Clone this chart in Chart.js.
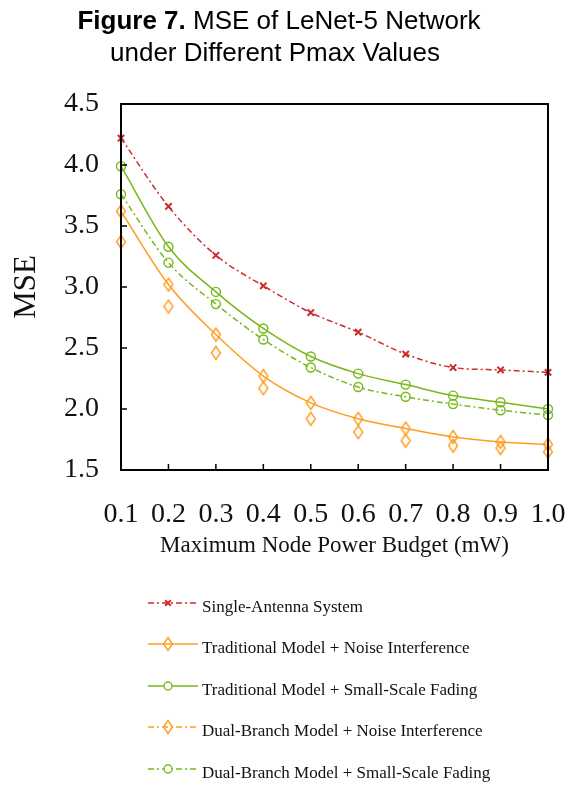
<!DOCTYPE html>
<html>
<head>
<meta charset="utf-8">
<script src="https://cdn.jsdelivr.net/npm/chart.js@4.4.0/dist/chart.umd.min.js"></script>
<style>
html, body { margin: 0; padding: 0; background: #ffffff; }
</style>
</head>
<body>
<canvas id="mseChart" width="581" height="787"></canvas>
<script>
// data
const powerBudgets = ['0.1', '0.2', '0.3', '0.4', '0.5', '0.6', '0.7', '0.8', '0.9', '1.0'];
const singleAntenna = [4.22, 3.66, 3.26, 3.01, 2.79, 2.63, 2.45, 2.34, 2.32, 2.30];
const tradNoise = [3.62, 3.02, 2.61, 2.27, 2.05, 1.92, 1.84, 1.77, 1.73, 1.71];
const tradFading = [3.99, 3.33, 2.96, 2.66, 2.43, 2.29, 2.20, 2.11, 2.055, 2.00];
const dualNoise = [3.37, 2.84, 2.46, 2.17, 1.92, 1.81, 1.74, 1.70, 1.68, 1.65];
const dualFading = [3.76, 3.20, 2.86, 2.57, 2.34, 2.18, 2.10, 2.04, 1.99, 1.95];
const mseTicks = [1.5, 2.0, 2.5, 3.0, 3.5, 4.0, 4.5];

const RED = '#cc2b2b';
const ORANGE = '#ff9c1e';
const GREEN = '#77b81a';
const DASHDOT = [6, 3, 2, 3];
const SERIF = '"Liberation Serif", "Times New Roman", serif';

function makeDiamond(color)
{
    const c = document.createElement('canvas');
    c.width = 12;
    c.height = 16;
    const g = c.getContext('2d');
    g.strokeStyle = color;
    g.lineWidth = 1.4;
    g.beginPath();
    g.moveTo(6, 1.5);
    g.lineTo(10.5, 8);
    g.lineTo(6, 14.5);
    g.lineTo(1.5, 8);
    g.closePath();
    g.stroke();
    return c;
}

const orangeDiamond = makeDiamond(ORANGE);

const seriesStyle = (label, data, color, marker, dash, showLine) => ({
    label: label,
    data: data,
    borderColor: color,
    backgroundColor: 'rgba(0,0,0,0)',
    borderWidth: 1.5,
    borderDash: dash,
    pointStyle: marker,
    pointRadius: 4.5,
    pointHoverRadius: 4.5,
    pointBorderColor: color,
    pointBorderWidth: marker == 'crossRot' ? 2 : 1.4,
    cubicInterpolationMode: 'monotone',
    showLine: showLine,
    clip: false,
    legendDash: dash.length ? dash : DASHDOT,
    legendSolid: dash.length == 0 && showLine
});

const frameAndLegend = {
    id: 'frameAndLegend',
    afterDraw(chart)
    {
        const { ctx, chartArea: area, scales: { x, y } } = chart;
        ctx.save();

        // box + inward ticks
        ctx.strokeStyle = '#000';
        ctx.lineWidth = 2;
        ctx.setLineDash([]);
        ctx.strokeRect(area.left, area.top, area.right - area.left, area.bottom - area.top);
        ctx.lineWidth = 1.5;
        ctx.beginPath();
        for (const v of mseTicks)
        {
            const py = y.getPixelForValue(v);
            ctx.moveTo(area.left, py);
            ctx.lineTo(area.left + 6, py);
        }
        for (let i = 1; i < powerBudgets.length - 1; i++)
        {
            const px = x.getPixelForValue(i);
            ctx.moveTo(px, area.bottom);
            ctx.lineTo(px, area.bottom - 6);
        }
        ctx.stroke();

        // title
        ctx.fillStyle = '#000';
        ctx.textBaseline = 'alphabetic';
        ctx.textAlign = 'left';
        const boldPart = 'Figure 7.';
        const restPart = ' MSE of LeNet-5 Network';
        ctx.font = 'bold 26px "Liberation Sans", Arial, sans-serif';
        const wb = ctx.measureText(boldPart).width;
        ctx.font = '26px "Liberation Sans", Arial, sans-serif';
        const wr = ctx.measureText(restPart).width;
        let tx = 279 - (wb + wr) / 2;
        ctx.font = 'bold 26px "Liberation Sans", Arial, sans-serif';
        ctx.fillText(boldPart, tx, 29);
        ctx.font = '26px "Liberation Sans", Arial, sans-serif';
        ctx.fillText(restPart, tx + wb, 29);
        ctx.textAlign = 'center';
        ctx.fillText('under Different Pmax Values', 275, 61);

        // legend
        const rowY = [603, 644, 686, 727, 769];
        ctx.font = '17px ' + SERIF;
        ctx.textAlign = 'left';
        ctx.textBaseline = 'middle';
        chart.data.datasets.forEach((ds, i) =>
        {
            const ly = rowY[i];
            ctx.strokeStyle = ds.borderColor;
            ctx.lineWidth = 1.5;
            ctx.setLineDash(ds.legendSolid ? [] : ds.legendDash);
            ctx.beginPath();
            ctx.moveTo(148, ly);
            ctx.lineTo(198, ly);
            ctx.stroke();
            ctx.setLineDash([]);
            ctx.fillStyle = '#ffffff';
            ctx.lineWidth = ds.pointBorderWidth;
            Chart.helpers.drawPoint(ctx, {
                pointStyle: ds.pointStyle,
                radius: 4,
                rotation: 0,
                borderWidth: ds.pointBorderWidth
            }, 168, ly);
            ctx.fillStyle = '#111';
            ctx.fillText(ds.label, 202, ly + 5);
        });

        ctx.restore();
    }
};

new Chart(document.getElementById('mseChart'), {
    type: 'line',
    data: {
        labels: powerBudgets,
        datasets: [
            seriesStyle('Single-Antenna System', singleAntenna, RED, 'crossRot', DASHDOT, true),
            seriesStyle('Traditional Model + Noise Interference', tradNoise, ORANGE, orangeDiamond, [], true),
            seriesStyle('Traditional Model + Small-Scale Fading', tradFading, GREEN, 'circle', [], true),
            seriesStyle('Dual-Branch Model + Noise Interference', dualNoise, ORANGE, orangeDiamond, [], false),
            seriesStyle('Dual-Branch Model + Small-Scale Fading', dualFading, GREEN, 'circle', DASHDOT, true)
        ]
    },
    options: {
        responsive: false,
        animation: false,
        devicePixelRatio: 1,
        layout: {
            padding: { top: 104, right: 33, bottom: 225, left: 0 }
        },
        plugins: {
            legend: { display: false },
            tooltip: { enabled: false }
        },
        scales: {
            x: {
                offset: false,
                grid: { display: false, drawTicks: false },
                border: { display: false },
                ticks: {
                    color: '#111',
                    padding: 28,
                    maxRotation: 0,
                    autoSkip: false,
                    font: { family: SERIF, size: 28 }
                },
                title: {
                    display: true,
                    text: 'Maximum Node Power Budget (mW)',
                    color: '#111',
                    padding: { top: 0, bottom: 2 },
                    font: { family: SERIF, size: 23 }
                },
                afterFit: (scale) =>
                {
                    scale.height = 92;
                    scale.paddingLeft = 0;
                    scale.paddingRight = 0;
                }
            },
            y: {
                min: 1.5,
                max: 4.5,
                grid: { display: false, drawTicks: false },
                border: { display: false },
                afterBuildTicks: (scale) => { scale.ticks = mseTicks.map(v => ({ value: v })); },
                ticks: {
                    color: '#111',
                    padding: 22,
                    callback: (value) => Number(value).toFixed(1),
                    font: { family: SERIF, size: 28 }
                },
                title: {
                    display: true,
                    text: 'MSE',
                    color: '#111',
                    padding: { top: 8, bottom: 0 },
                    font: { family: SERIF, size: 31 }
                },
                afterFit: (scale) => { scale.width = 121; }
            }
        }
    },
    plugins: [frameAndLegend]
});
</script>
</body>
</html>
